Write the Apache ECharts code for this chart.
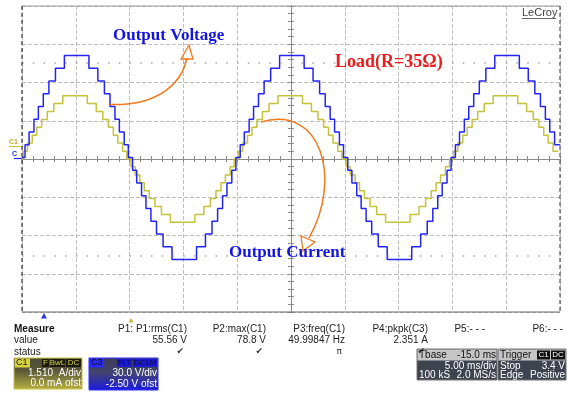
<!DOCTYPE html>
<html><head><meta charset="utf-8">
<script src="https://cdn.jsdelivr.net/npm/echarts@6/dist/echarts.min.js"></script>
<style>html,body{margin:0;padding:0;background:#fff}#c{width:568px;height:393px}</style>
</head><body><div id="c"></div>
<script>
const timeMs = [0,
 0.28,0.66,1.11,1.52,1.98,2.50,3.11,3.94,6.22,7.05,7.66,8.18,8.64,9.05,9.50,9.88,
 10.28,10.66,11.11,11.52,11.98,12.50,13.11,13.94,16.22,17.05,17.66,18.18,18.64,19.05,19.50,19.88,
 20.28,20.66,21.11,21.52,21.98,22.50,23.11,23.94,26.22,27.05,27.66,28.18,28.64,29.05,29.50,29.88,
 30.28,30.66,31.11,31.52,31.98,32.50,33.11,33.94,36.22,37.05,37.66,38.18,38.64,39.05,39.50,39.88,
 40.28,40.66,41.11,41.52,41.98,42.50,43.11,43.94,46.22,47.05,47.66,48.18,48.64,49.05,49.50,50.00];
const voltageV = [0,
 10,20,30,40,50,60,70,80,70,60,50,40,30,20,10,0,
 -10,-20,-30,-40,-50,-60,-70,-80,-70,-60,-50,-40,-30,-20,-10,0,
 10,20,30,40,50,60,70,80,70,60,50,40,30,20,10,0,
 -10,-20,-30,-40,-50,-60,-70,-80,-70,-60,-50,-40,-30,-20,-10,0,
 10,20,30,40,50,60,70,80,70,60,50,40,30,20,10,10];
const currentA = [0,
 0.31,0.63,0.94,1.25,1.56,1.88,2.19,2.5,2.19,1.88,1.56,1.25,0.94,0.63,0.31,0,
 -0.31,-0.63,-0.94,-1.25,-1.56,-1.88,-2.19,-2.5,-2.19,-1.88,-1.56,-1.25,-0.94,-0.63,-0.31,0,
 0.31,0.63,0.94,1.25,1.56,1.88,2.19,2.5,2.19,1.88,1.56,1.25,0.94,0.63,0.31,0,
 -0.31,-0.63,-0.94,-1.25,-1.56,-1.88,-2.19,-2.5,-2.19,-1.88,-1.56,-1.25,-0.94,-0.63,-0.31,0,
 0.31,0.63,0.94,1.25,1.56,1.88,2.19,2.5,2.19,1.88,1.56,1.25,0.94,0.63,0.31,0.31];
const currentLeadMs = 0.15;
const cursorDiv = [2.52, -2.52];
const voltRange = [-121.1, 118.9];   // 30 V/div, 8 div
const ampRange = [-6.04, 6.04];      // 1.51 A/div, 8 div
const timeRange = [0, 50];           // 5 ms/div, 10 div
const measureHeads = ['P1: P1:rms(C1)','P2:max(C1)','P3:freq(C1)','P4:pkpk(C3)','P5:- - -','P6:- - -'];
const measureValues = ['55.56 V','78.8 V','49.99847 Hz','2.351 A','',''];
const measureStatus = ['\u2714','\u2714','\u03C0','\u2714','',''];

const BLUE = '#2424f2', YEL = '#c4c23c', ORANGE = '#f07a1c';
const chart = echarts.init(document.getElementById('c'), null, {renderer:'canvas'});

function txt(x, y, text, font, fill, align, valign, extra) {
  return Object.assign({type:'text', x:x, y:y, z:50, silent:true,
    style:{text:text, font:font, fill:fill, textAlign:align||'left', align:align||'left',
      textVerticalAlign:valign||'middle', verticalAlign:valign||'middle'}}, extra||{});
}
function rect(x,y,w,h,fill,stroke,lw){
  return {type:'rect', z:40, silent:true, shape:{x:x,y:y,width:w,height:h},
    style:{fill:fill, stroke:stroke||null, lineWidth:lw||0}};
}
function line(x1,y1,x2,y2,stroke,lw,dash){
  return {type:'line', z:45, silent:true, shape:{x1:x1,y1:y1,x2:x2,y2:y2},
    style:{stroke:stroke, lineWidth:lw||1, lineDash:dash||null}};
}

const F = '"Liberation Sans", Arial, sans-serif';
const SERIF = '"Liberation Serif", "Times New Roman", serif';
const g = [];
// plot border
g.push(line(22,6,560,6,'#9a9a9a',1));
g.push(line(22,312,560,312,'#6a6a6a',1));
g.push(line(22,6,22,312,'#333',1.2,[4,3]));
g.push(line(560,6,560,312,'#555',1.2,[4,3]));
// LeCroy
g.push(txt(522,13,'LeCroy','11px '+F,'#444','left','middle'));
g.push(line(522,18.5,556,18.5,'#444',0.8));
// channel markers at left
g.push(txt(9,142,'C1','bold 7px '+F,'#b8b030','left','middle'));
g.push(line(9,146.5,21,146.5,YEL,1));
g.push(txt(12,154,'C','bold 7px '+F,BLUE,'left','middle'));
g.push(line(14,158.5,22,158.5,BLUE,1.2));
// trigger markers
g.push({type:'polygon', z:45, silent:true, shape:{points:[[41,318.5],[47,318.5],[44,313]]}, style:{fill:'#2a3ad8'}});
g.push({type:'polygon', z:45, silent:true, shape:{points:[[128.5,322.5],[133.5,322.5],[131,318]]}, style:{fill:'#c8b830'}});
// annotations
g.push(txt(113,36,'Output Voltage','bold 17px '+SERIF,'#1414e0','left','middle'));
g.push(txt(335,62,'Load(R=35\u03A9)','bold 18px '+SERIF,'#ee1c1c','left','middle'));
g.push(txt(229,253,'Output Current','bold 17px '+SERIF,'#1414e0','left','middle'));
// orange arrows
g.push({type:'bezierCurve', z:45, silent:true,
  shape:{x1:110,y1:104.5,cpx1:160,cpy1:106,cpx2:182,cpy2:82,x2:187,y2:58},
  style:{stroke:ORANGE, lineWidth:1.5, fill:null}});
g.push({type:'polygon', z:45, silent:true, shape:{points:[[189,45],[181,59],[193,59]]},
  style:{stroke:ORANGE, lineWidth:1.3, fill:'rgba(255,255,255,0)'}});
g.push({type:'bezierCurve', z:45, silent:true,
  shape:{x1:261,y1:122,cpx1:322,cpy1:104,cpx2:342,cpy2:180,x2:309,y2:238},
  style:{stroke:ORANGE, lineWidth:1.5, fill:null}});
g.push({type:'polygon', z:45, silent:true, shape:{points:[[303,251],[301,236],[315,242]]},
  style:{stroke:ORANGE, lineWidth:1.3, fill:'rgba(255,255,255,0)'}});
// measure table
g.push(txt(14,329,'Measure','bold 10px '+F,'#111','left','middle'));
g.push(txt(14,340,'value','10px '+F,'#222','left','middle'));
g.push(txt(14,352,'status','10px '+F,'#222','left','middle'));
const colRight = [187, 266, 345, 428, 485, 563];
measureHeads.forEach((h,i)=>{
  g.push(txt(colRight[i],329,h,'10px '+F,'#222','right','middle'));
  if (measureValues[i]) g.push(txt(colRight[i],340,measureValues[i],'10px '+F,'#222','right','middle'));
  if (measureStatus[i]) g.push(txt(colRight[i]-3,352,measureStatus[i],'9px "DejaVu Sans"','#333','right','middle'));
});
// C1 box
g.push(rect(14,358,68,31,{type:'linear',x:0,y:0,x2:0,y2:1,colorStops:[{offset:0,color:'#4a4a3a'},{offset:0.4,color:'#5a5838'},{offset:1,color:'#b8b040'}]},'#c8c040',1));
g.push(rect(15,358.5,15,9,'#d8d040'));
g.push(txt(16,363,'C1','9px '+F,'#222','left','middle'));
g.push(rect(42,359,7,8,'#1a1a10')); g.push(txt(45.5,363,'F','8px '+F,'#d8d040','center','middle'));
g.push(rect(50,359,15,8,'#1a1a10')); g.push(txt(57.5,363,'BwL','8px '+F,'#d8d040','center','middle'));
g.push(rect(66,359,15,8,'#1a1a10')); g.push(txt(73.5,363,'DC','8px '+F,'#d8d040','center','middle'));
g.push(txt(53,373,'1.510','10px '+F,'#fff','right','middle'));
g.push(txt(81,373,'A/div','10px '+F,'#fff','right','middle'));
g.push(txt(81,383,'0.0 mA ofst','10px '+F,'#fff','right','middle'));
// C3 box
g.push(rect(89,358,69,32,{type:'linear',x:0,y:0,x2:0,y2:1,colorStops:[{offset:0,color:'#3c3c58'},{offset:0.45,color:'#444470'},{offset:1,color:'#1a1ae0'}]},'#3030ff',1));
g.push(rect(90,358.5,14,9,'#2828ff'));
g.push(txt(91,363,'C3','9px '+F,'#111','left','middle'));
g.push(rect(117,359,15,8,'#1a1ad0')); g.push(txt(124.5,363,'FLT','8px '+F,'#0a0a40','center','middle'));
g.push(rect(133,359,24,8,'#1a1ad0')); g.push(txt(145,363,'DC1M','8px '+F,'#0a0a40','center','middle'));
g.push(txt(157,373,'30.0 V/div','10px '+F,'#fff','right','middle'));
g.push(txt(157,384,'-2.50 V ofst','10px '+F,'#fff','right','middle'));
// Tbase box
g.push(rect(417,349,80,31,'#3e4350','#777',1));
g.push(rect(417.5,349.5,79,11,'#c6c6c6'));
g.push(txt(419,355,'Tbase','10px '+F,'#111','left','middle'));
g.push(txt(496,355,'-15.0 ms','10px '+F,'#111','right','middle'));
g.push(txt(496,366,'5.00 ms/div','10px '+F,'#fff','right','middle'));
g.push(txt(419,375,'100 kS','10px '+F,'#fff','left','middle'));
g.push(txt(496,375,'2.0 MS/s','10px '+F,'#fff','right','middle'));
// Trigger box
g.push(rect(498,349,68,31,'#3e4350','#777',1));
g.push(rect(498.5,349.5,67,11,'#c6c6c6'));
g.push(txt(500,355,'Trigger','10px '+F,'#111','left','middle'));
g.push(rect(537,350.5,13,9,'#111')); g.push(txt(543.5,355,'C1','8px '+F,'#fff','center','middle'));
g.push(rect(551,350.5,14,9,'#111')); g.push(txt(558,355,'DC','8px '+F,'#fff','center','middle'));
g.push(txt(500,366,'Stop','10px '+F,'#fff','left','middle'));
g.push(txt(565,366,'3.4 V','10px '+F,'#fff','right','middle'));
g.push(txt(500,375,'Edge','10px '+F,'#fff','left','middle'));
g.push(txt(565,375,'Positive','10px '+F,'#fff','right','middle'));

const gridLine = {show:true, lineStyle:{color:'#bdbdbd', width:1, type:[4,2]}};
const centerLine = {show:true, onZero:true, onZeroAxisIndex:0, lineStyle:{color:'#8a8a8a', width:1}};
const tickCfg = {show:true, length:3, lineStyle:{color:'#8a8a8a'}};
const minorCfg = {show:true, splitNumber:5, length:3, lineStyle:{color:'#8a8a8a'}};

const option = {
  animation:false,
  backgroundColor:'#fff',
  grid:{left:22, top:6, width:538, height:306, outerBoundsMode:'none', containLabel:false},
  xAxis:[
    {type:'value', min:-5, max:5, interval:1, position:'bottom', axisLine:centerLine, axisTick:tickCfg, minorTick:minorCfg, axisLabel:{show:false}, splitLine:gridLine},
    {type:'value', min:-5, max:5, interval:1, position:'top', axisLine:centerLine, axisTick:tickCfg, minorTick:minorCfg, axisLabel:{show:false}, splitLine:{show:false}},
    {type:'value', min:timeRange[0], max:timeRange[1], show:false}
  ],
  yAxis:[
    {type:'value', min:-4, max:4, interval:1, position:'left', axisLine:centerLine, axisTick:tickCfg, minorTick:minorCfg, axisLabel:{show:false}, splitLine:gridLine},
    {type:'value', min:-4, max:4, interval:1, position:'right', axisLine:centerLine, axisTick:tickCfg, minorTick:minorCfg, axisLabel:{show:false}, splitLine:{show:false}},
    {type:'value', min:voltRange[0], max:voltRange[1], show:false},
    {type:'value', min:ampRange[0], max:ampRange[1], show:false}
  ],
  series:[
    {type:'line', xAxisIndex:0, yAxisIndex:0, data:[], silent:true,
      markLine:{silent:true, symbol:'none', label:{show:false},
        lineStyle:{color:'#a8a8a8', width:1.6, type:[1.6,9.15]},
        data:cursorDiv.map(v=>({yAxis:v}))}},
    {type:'line', name:'Current', xAxisIndex:2, yAxisIndex:3, step:'end', symbol:'none', z:3,
      lineStyle:{color:YEL, width:1.5},
      data:timeMs.map((t,i)=>[t - currentLeadMs, currentA[i]])},
    {type:'line', name:'Voltage', xAxisIndex:2, yAxisIndex:2, step:'end', symbol:'none', z:4,
      lineStyle:{color:BLUE, width:1.5},
      data:timeMs.map((t,i)=>[t, voltageV[i]])}
  ],
  graphic:g
};
chart.setOption(option);
</script></body></html>
